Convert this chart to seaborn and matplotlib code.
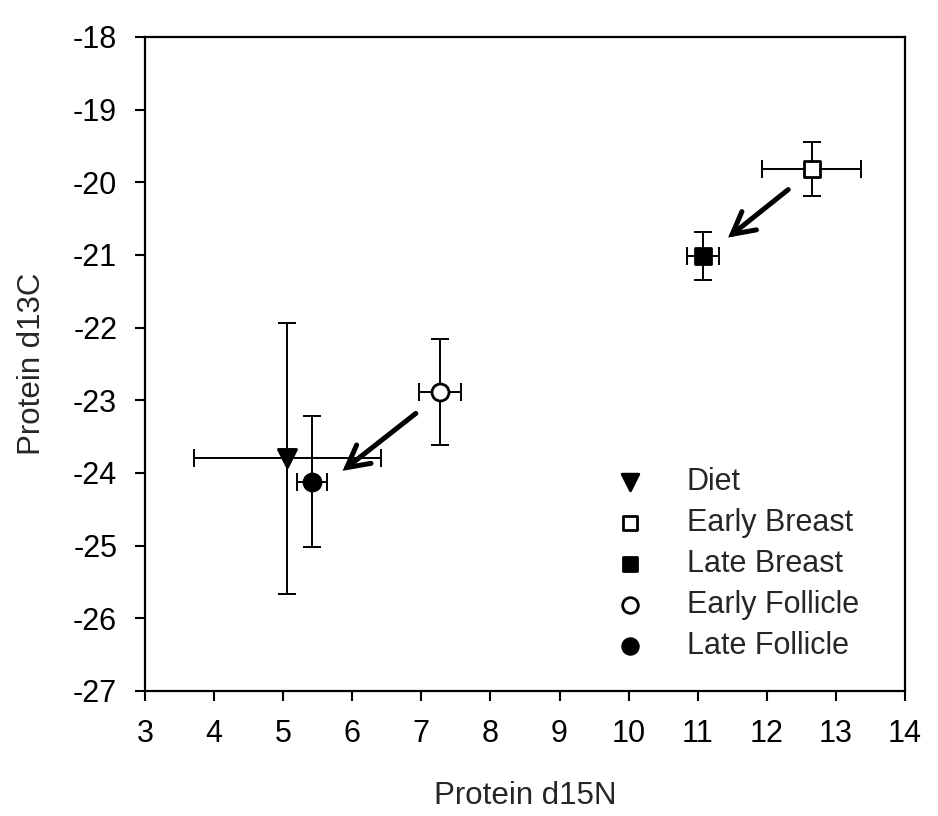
import matplotlib
matplotlib.use("Agg")
import matplotlib.pyplot as plt
import seaborn as sns

# Mean isotope values (with SD) for each tissue / diet group
groups = ["Diet", "Early Breast", "Late Breast", "Early Follicle", "Late Follicle"]
d15n = [5.06, 12.65, 11.08, 7.27, 5.42]
d15n_sd = [1.35, 0.72, 0.23, 0.30, 0.22]
d13c = [-23.80, -19.82, -21.01, -22.89, -24.12]
d13c_sd = [1.87, 0.37, 0.33, 0.73, 0.90]

markers = ["v", "s", "s", "o", "o"]
fills = ["black", "white", "black", "white", "black"]
sizes = [170, 125, 135, 150, 150]

# Arrows showing the shift from early to late samples
arrow_from = [(12.31, -20.10), (6.92, -23.18)]
arrow_to = [(11.44, -20.76), (5.86, -23.97)]

x_ticks = list(range(3, 15))
y_ticks = list(range(-27, -17))

sns.set_theme(style="ticks")
plt.rcParams["font.family"] = ["Liberation Sans", "DejaVu Sans"]
plt.rcParams["axes.unicode_minus"] = False

fig = plt.figure(figsize=(9.38, 8.16), dpi=100)
ax = fig.add_axes([0.1546, 0.1532, 0.8102, 0.8015])

for i, name in enumerate(groups):
    ax.errorbar(d15n[i], d13c[i], xerr=d15n_sd[i], yerr=d13c_sd[i],
                fmt="none", ecolor="black", elinewidth=1.4,
                capsize=6.4, capthick=1.4, zorder=2)
    sns.scatterplot(x=[d15n[i]], y=[d13c[i]], marker=markers[i],
                    s=sizes[i], color=fills[i], edgecolor="black",
                    linewidth=2.0, label=name, ax=ax, zorder=3)

for start, end in zip(arrow_from, arrow_to):
    ax.annotate("", xy=end, xytext=start,
                arrowprops=dict(arrowstyle="->,head_length=1.3,head_width=0.7",
                                lw=3.6, color="black", shrinkA=0, shrinkB=0,
                                joinstyle="miter", capstyle="round"))

ax.set_xlim(3, 14)
ax.set_ylim(-27, -18)
ax.set_xticks(x_ticks)
ax.set_yticks(y_ticks)
ax.tick_params(axis="both", direction="out", length=7, width=1.5,
               labelsize=22, colors="black", pad=13)
ax.tick_params(top=False, right=False)
for sp in ax.spines.values():
    sp.set_linewidth(1.6)
    sp.set_color("black")

ax.set_xlabel("Protein d15N", fontsize=22.5, labelpad=23)
ax.set_ylabel("Protein d13C", fontsize=22.5, labelpad=19)

ax.legend(loc="upper left", bbox_to_anchor=(0.598, 0.343), frameon=False,
          fontsize=22, labelspacing=0.36, handletextpad=0.86,
          borderaxespad=0, borderpad=0, markerscale=0.92)

fig.savefig("out.png", dpi=100, facecolor="white")
